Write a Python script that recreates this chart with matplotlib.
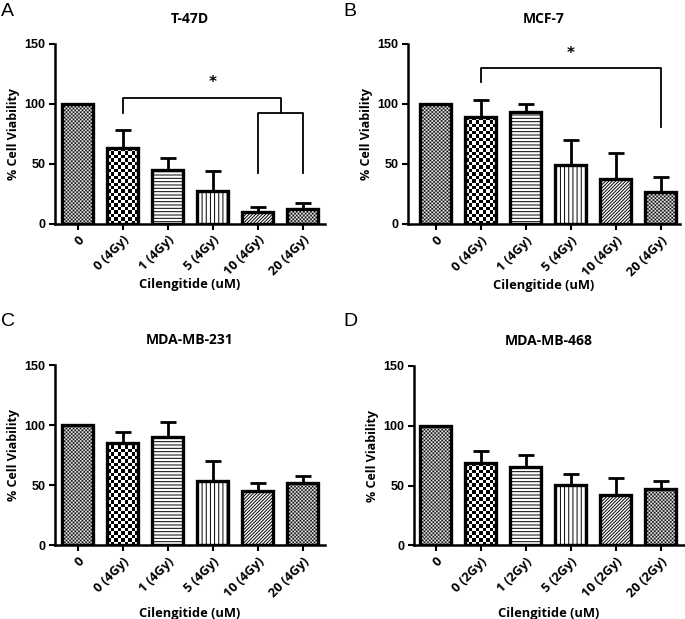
import numpy as np
import matplotlib
matplotlib.use("Agg")
import matplotlib.pyplot as plt

# ---- data ----
doses = ["0", "0", "1", "5", "10", "20"]
gy_a = "4Gy"
gy_d = "2Gy"

t47d_mean = [100, 63.5, 45, 27, 9.5, 11.7]
t47d_err = [0, 14.5, 9.5, 16.8, 4.2, 5.6]

mcf7_mean = [100, 89, 93, 49, 37.5, 26.5]
mcf7_err = [0, 14, 7, 21, 21.5, 12.5]

mda231_mean = [100, 85.3, 90.3, 53.3, 44.7, 52]
mda231_err = [0, 8.9, 11.9, 17, 7, 5.8]

mda468_mean = [100, 68.6, 65.8, 50.5, 42.1, 47.1]
mda468_err = [0, 10, 9.7, 9.2, 13.9, 6.7]

# significance brackets: (x_left, x_right, y_bar, y_left_end, y_right_end)
t47d_brackets = [(1, 4.53, 104.5, 92, 92), (4, 5, 92, 42.5, 42.5)]
t47d_star = (3.0, 118)
mcf7_brackets = [(1, 5, 129.7, 118, 80.5)]
mcf7_star = (3.0, 142)

# bar fill styles, same order for every panel
styles = ["fine", "coarse", "-----", "||||", "//////////", "fine"]

W, H = 685, 619
DPI = 100
BAR_W = 0.7
TXT = "Open Sans"
NUM = "Liberation Sans"

plt.rcParams["hatch.linewidth"] = 0.7
fig = plt.figure(figsize=(W / DPI, H / DPI), dpi=DPI)


def px_axes(left, right, top, bottom):
    return fig.add_axes([left / W, 1 - bottom / H, (right - left) / W, (bottom - top) / H])


def checker(ax, rect, sq_px):
    x0, y0 = rect.get_x(), rect.get_y()
    w, h = rect.get_width(), rect.get_height()
    p0 = ax.transData.transform((x0, y0))
    p1 = ax.transData.transform((x0 + w, y0 + h))
    nx = max(1, int(round(abs(p1[0] - p0[0]) / sq_px)))
    ny = max(1, int(round(abs(p1[1] - p0[1]) / sq_px)))
    grid = (np.indices((ny, nx)).sum(axis=0) % 2).astype(float)
    im = ax.imshow(grid, cmap="gray", extent=(x0, x0 + w, y0, y0 + h),
                   aspect="auto", interpolation="antialiased", zorder=2.5,
                   vmin=0, vmax=1)
    im.set_clip_path(rect)


def panel(box, xlim, title, means, errs, gy, brackets=None, star=None, xpad=0):
    ax = px_axes(*box)
    x = np.arange(len(means))
    ax.set_xlim(*xlim)
    ax.set_ylim(0, 150)

    fills = ax.bar(x, means, width=BAR_W, color="white", edgecolor="none", zorder=2)
    for rect, st in zip(fills, styles):
        if st == "fine":
            checker(ax, rect, 1.8)
        elif st == "coarse":
            checker(ax, rect, 3.4)
        else:
            rect.set_hatch(st)
            rect.set_edgecolor("black")
            rect.set_linewidth(0)
    ax.bar(x, means, width=BAR_W, fill=False, edgecolor="black", linewidth=2.4, zorder=3)

    ax.errorbar(x[1:], means[1:], yerr=[np.zeros(len(errs) - 1), errs[1:]], fmt="none",
                ecolor="black", elinewidth=2, capsize=6, capthick=2, zorder=4)

    for sp in ["top", "right"]:
        ax.spines[sp].set_visible(False)
    for sp in ["left", "bottom"]:
        ax.spines[sp].set_linewidth(1.8)
    ax.set_yticks([0, 50, 100, 150])
    ax.set_yticklabels(["0", "50", "100", "150"], fontsize=9, fontweight="bold", family=NUM)
    ax.set_xticks(x)
    labels = [doses[0]] + [f"{d} ({gy})" for d in doses[1:]]
    ax.set_xticklabels(labels, rotation=45, ha="right", rotation_mode="anchor",
                       fontsize=9.3, fontweight="bold", family=TXT)
    ax.tick_params(axis="both", direction="out", length=4, width=1.5, pad=3)
    ax.set_ylabel("% Cell Viability", fontsize=9, fontweight="bold", family=TXT, labelpad=3)
    ax.set_xlabel("Cilengitide (uM)", fontsize=9.3, fontweight="bold", family=TXT, labelpad=xpad)
    ax.set_title(title, fontsize=10, fontweight="bold", family=TXT, pad=15)

    if brackets:
        for xl, xr, yb, yl, yr in brackets:
            ax.plot([xl, xl, xr, xr], [yl, yb, yb, yr], color="black", lw=1.3,
                    clip_on=False, zorder=5)
    if star:
        ax.text(star[0], star[1], "*", ha="center", va="center", fontsize=11,
                fontweight="bold")
    return ax


panel((55, 325, 44, 223.5), (-0.5, 5.5), "T-47D", t47d_mean, t47d_err, gy_a,
      t47d_brackets, t47d_star)
panel((408, 680, 44, 224), (-0.615, 5.43), "MCF-7", mcf7_mean, mcf7_err, gy_a,
      mcf7_brackets, mcf7_star)
panel((55, 325, 365, 545), (-0.5, 5.5), "MDA-MB-231", mda231_mean, mda231_err, gy_a,
      xpad=5)
panel((414, 684, 366, 545.3), (-0.48, 5.52), "MDA-MB-468", mda468_mean, mda468_err, gy_d,
      xpad=5)

for letter, (px, py) in zip("ABCD", [(1, 12), (343, 12), (1, 322), (343, 322)]):
    fig.text(px / W, 1 - py / H, letter, fontsize=14, family=NUM,
             ha="left", va="center")

fig.savefig("out.png", dpi=DPI)
